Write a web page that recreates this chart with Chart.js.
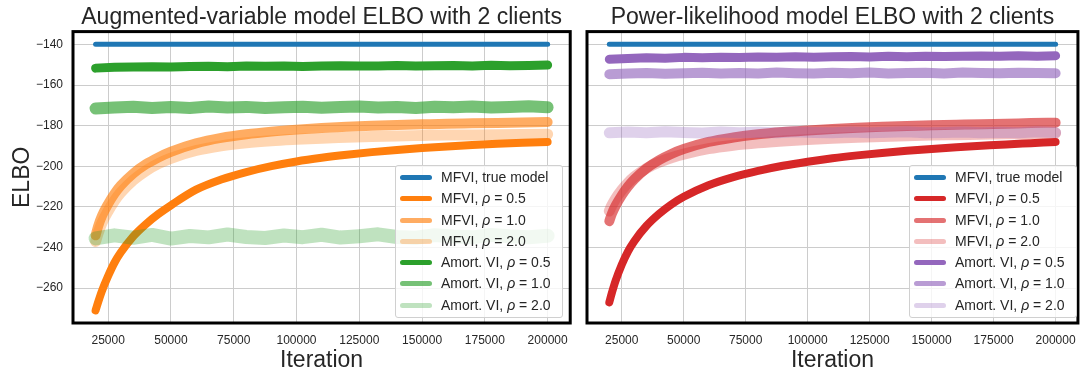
<!DOCTYPE html>
<html>
<head>
<meta charset="utf-8">
<script src="https://cdn.jsdelivr.net/npm/chart.js@4.4.1/dist/chart.umd.min.js"></script>
<style>
  body { margin: 0; background: #fff; font-family: "Liberation Sans", Arial, sans-serif; }
  #wrap { position: relative; width: 1086px; height: 375px; overflow: hidden; }
  .panel { position: absolute; top: 0; height: 375px; }
  .legend {
    position: absolute; top: 165px; width: 166px; height: 150px;
    background: rgba(255,255,255,0.8); border: 1px solid #d0d0d0; border-radius: 3px;
    padding-top: 1px; box-sizing: content-box;
  }
  .row { position: relative; height: 21.3px; line-height: 21.3px; font-size: 14px; color: #262626; white-space: nowrap; }
  .row .swatch { position: absolute; left: 4px; top: 8px; width: 32px; height: 5px; border-radius: 3px; }
  .row .txt { position: absolute; left: 45px; top: 0; }
</style>
</head>
<body>
<div id="wrap">
  <div class="panel" style="left:0;width:578px"><canvas id="leftChart" width="578" height="375"></canvas></div>
  <div class="panel" style="left:578px;width:508px"><canvas id="rightChart" width="508" height="375"></canvas></div>
  <div class="legend" id="leftLegend" style="left:395px"></div>
  <div class="legend" id="rightLegend" style="left:909px"></div>
</div>
<script>
// x positions
const iterEnds = [20000, 200000];
const iterFlat = [20000, 27500, 35000, 42500, 50000, 57500, 65000, 72500, 80000, 87500, 95000, 102500,
  110000, 117500, 125000, 132500, 140000, 147500, 155000, 162500, 170000, 177500, 185000, 192500, 200000];
const iterCurve = [20000, 21000, 22500, 25000, 27500, 30000, 35000, 40000, 45000, 50000, 60000, 70000,
  80000, 90000, 100000, 110000, 120000, 130000, 140000, 150000, 160000, 170000, 180000, 190000, 200000];

// tick labels
const xTicks = [25000, 50000, 75000, 100000, 125000, 150000, 175000, 200000];
const yTicks = [-140, -160, -180, -200, -220, -240, -260];

// shared
const trueModel = [-139.8, -139.8];

// augmented-variable model (left)
const augMfvi05 = [-271, -267, -261.5, -254, -247.5, -242.5, -234.5, -228.5, -223.5, -219.2, -211.5, -206.5,
  -202.8, -199.9, -197.6, -195.8, -194.3, -193.0, -191.9, -191.0, -190.2, -189.5, -188.9, -188.4, -188.0];
const augMfvi10 = [-234, -229.5, -224.5, -218.5, -213.5, -209.5, -203.5, -199, -195.6, -192.8, -188.7, -186,
  -184.2, -182.9, -181.9, -181.1, -180.5, -180, -179.6, -179.3, -179, -178.8, -178.6, -178.4, -178.2];
const augMfvi20 = [-237, -233, -228, -222, -217, -213, -206.8, -202.2, -198.7, -196, -192.2, -189.9,
  -188.4, -187.4, -186.7, -186.1, -185.7, -185.3, -185, -184.8, -184.6, -184.5, -184.4, -184.3, -184.2];
const augAmort05 = [-151.6, -151.2, -151.0, -150.9, -151.1, -150.8, -150.7, -150.9, -150.6, -150.7, -150.5, -150.8,
  -150.6, -150.4, -150.6, -150.5, -150.3, -150.6, -150.4, -150.3, -150.5, -150.2, -150.4, -150.3, -150.1];
const augAmort10 = [-171.5, -171.0, -170.6, -171.3, -170.8, -171.2, -170.5, -171.0, -170.7, -171.3, -170.9, -170.6,
  -171.1, -170.8, -170.5, -171.0, -170.7, -171.2, -170.6, -170.9, -170.5, -171.0, -170.7, -170.4, -170.9];
const augAmort20 = [-235.5, -234.0, -235.2, -233.8, -235.6, -234.3, -235.0, -233.6, -234.8, -235.3, -234.1, -234.9,
  -233.7, -235.1, -234.4, -233.5, -234.8, -235.2, -233.9, -234.6, -235.0, -233.8, -234.5, -234.9, -234.2];

// power-likelihood model (right)
const powMfvi05 = [-267, -262.5, -256.5, -248.5, -242, -237, -229.3, -223.5, -218.8, -215, -209.3, -205.3,
  -202.2, -199.7, -197.7, -196, -194.6, -193.4, -192.3, -191.4, -190.6, -189.9, -189.2, -188.6, -188];
const powMfvi10 = [-227, -223.5, -219.5, -214.3, -210, -206.5, -201, -197, -193.9, -191.5, -188, -185.8,
  -184.2, -183.1, -182.3, -181.6, -181, -180.5, -180.1, -179.8, -179.5, -179.2, -179, -178.7, -178.5];
const powMfvi20 = [-222, -219.3, -216, -211.7, -208.2, -205.3, -201, -198, -195.8, -194, -191.3, -189.6,
  -188.4, -187.5, -186.8, -186.2, -185.7, -185.3, -184.9, -184.6, -184.4, -184.2, -184, -183.8, -183.6];
const powAmort05 = [-147.2, -146.8, -146.5, -146.7, -146.3, -146.5, -146.2, -146.4, -146.1, -146.3, -146.0, -146.2,
  -146.0, -145.9, -146.1, -145.8, -146.0, -145.7, -145.9, -145.8, -145.6, -145.8, -145.5, -145.7, -145.5];
const powAmort10 = [-154.6, -154.3, -154.0, -154.4, -154.1, -153.9, -154.3, -154.0, -154.2, -153.8, -154.1, -154.3,
  -153.9, -154.1, -153.8, -154.2, -154.0, -153.9, -154.2, -153.8, -154.0, -154.1, -153.9, -154.0, -154.1];
const powAmort20 = [-183.5, -183.1, -183.4, -183.0, -183.3, -183.6, -183.1, -183.4, -183.2, -183.5, -183.0, -183.3,
  -183.4, -183.1, -183.5, -183.2, -183.0, -183.4, -183.3, -183.1, -183.5, -183.2, -183.4, -183.0, -183.3];

const seriesLabels = ['MFVI, true model', 'MFVI, ρ = 0.5', 'MFVI, ρ = 1.0', 'MFVI, ρ = 2.0',
  'Amort. VI, ρ = 0.5', 'Amort. VI, ρ = 1.0', 'Amort. VI, ρ = 2.0'];

const pts = (xs, ys) => xs.map((x, i) => ({ x: x, y: ys[i] }));
const textColor = '#262626';

// draws the black box around the plot area
const frame = {
  id: 'frame',
  afterDatasetsDraw(chart) {
    const a = chart.chartArea, c = chart.ctx;
    c.save();
    c.strokeStyle = '#000';
    c.lineWidth = 3;
    c.strokeRect(a.left, a.top, a.right - a.left, a.bottom - a.top);
    c.restore();
  }
};

function makePanel(id, title, series, colors, widths, showY) {
  const datasets = series.map((s, i) => ({
    label: seriesLabels[i],
    data: pts(s[0], s[1]),
    borderColor: colors[i],
    backgroundColor: colors[i],
    borderWidth: widths[i],
    borderCapStyle: 'round',
    borderJoinStyle: 'round',
    pointRadius: 0,
    // curves are smoothed, the noisy flat runs stay jagged
    cubicInterpolationMode: s[0] === iterCurve ? 'monotone' : 'default',
    tension: 0,
    order: 10 - i
  }));

  return new Chart(document.getElementById(id).getContext('2d'), {
    type: 'line',
    data: { datasets: datasets },
    options: {
      responsive: false,
      animation: false,
      layout: { padding: { left: 0, right: showY ? 7 : 1, top: 0, bottom: 0 } },
      plugins: {
        legend: { display: false },
        tooltip: { enabled: false },
        title: {
          display: true, text: title, fullSize: false,
          color: textColor,
          font: { family: 'Liberation Sans', size: 23, weight: 'normal' },
          padding: { top: 4, bottom: 0 }
        }
      },
      scales: {
        x: {
          type: 'linear', min: 11000, max: 209000,
          afterBuildTicks: axis => { axis.ticks = xTicks.map(v => ({ value: v })); },
          afterFit: axis => { axis.height = 52; },
          grid: { color: '#cccccc', drawTicks: false },
          border: { display: false },
          ticks: { color: textColor, padding: 10, maxRotation: 0, autoSkip: false,
                   font: { family: 'Liberation Sans', size: 12 },
                   callback: v => String(v) },
          title: { display: true, text: 'Iteration', color: textColor,
                   font: { family: 'Liberation Sans', size: 23 }, padding: { top: 0, bottom: 1 } }
        },
        y: {
          min: -277.2, max: -133.6,
          afterBuildTicks: axis => { axis.ticks = yTicks.map(v => ({ value: v })); },
          afterFit: axis => { axis.width = showY ? 73 : 9; },
          grid: { color: '#cccccc', drawTicks: false },
          border: { display: false },
          ticks: { display: showY, color: textColor, padding: 10,
                   font: { family: 'Liberation Sans', size: 12 },
                   callback: v => '\u2212' + Math.abs(v) },
          title: { display: showY, text: 'ELBO', color: textColor,
                   font: { family: 'Liberation Sans', size: 23 }, padding: { top: 9, bottom: 0 } }
        }
      }
    },
    plugins: [frame]
  });
}

function htmlLegend(chart, boxId) {
  const box = document.getElementById(boxId);
  chart.data.datasets.forEach(ds => {
    const row = document.createElement('div');
    row.className = 'row';
    const sw = document.createElement('span');
    sw.className = 'swatch';
    sw.style.background = ds.borderColor;
    const t = document.createElement('span');
    t.className = 'txt';
    t.innerHTML = ds.label.replace('ρ', '<i>ρ</i>');
    row.appendChild(sw);
    row.appendChild(t);
    box.appendChild(row);
  });
}

const leftColors = ['#1f77b4', '#ff7f0e', 'rgba(255,127,14,0.65)', 'rgba(255,127,14,0.32)',
  '#2ca02c', 'rgba(44,160,44,0.65)', 'rgba(44,160,44,0.3)'];
const rightColors = ['#1f77b4', '#d62728', 'rgba(214,39,40,0.65)', 'rgba(214,39,40,0.3)',
  '#9467bd', 'rgba(148,103,189,0.65)', 'rgba(148,103,189,0.3)'];

const leftChart = makePanel('leftChart', 'Augmented-variable model ELBO with 2 clients', [
  [iterEnds, trueModel], [iterCurve, augMfvi05], [iterCurve, augMfvi10], [iterCurve, augMfvi20],
  [iterFlat, augAmort05], [iterFlat, augAmort10], [iterFlat, augAmort20]
], leftColors, [5, 8, 10, 11, 9, 12, 14], true);

const rightChart = makePanel('rightChart', 'Power-likelihood model ELBO with 2 clients', [
  [iterEnds, trueModel], [iterCurve, powMfvi05], [iterCurve, powMfvi10], [iterCurve, powMfvi20],
  [iterFlat, powAmort05], [iterFlat, powAmort10], [iterFlat, powAmort20]
], rightColors, [5, 8, 10, 11, 9, 10, 11], false);

htmlLegend(leftChart, 'leftLegend');
htmlLegend(rightChart, 'rightLegend');
</script>
</body>
</html>
